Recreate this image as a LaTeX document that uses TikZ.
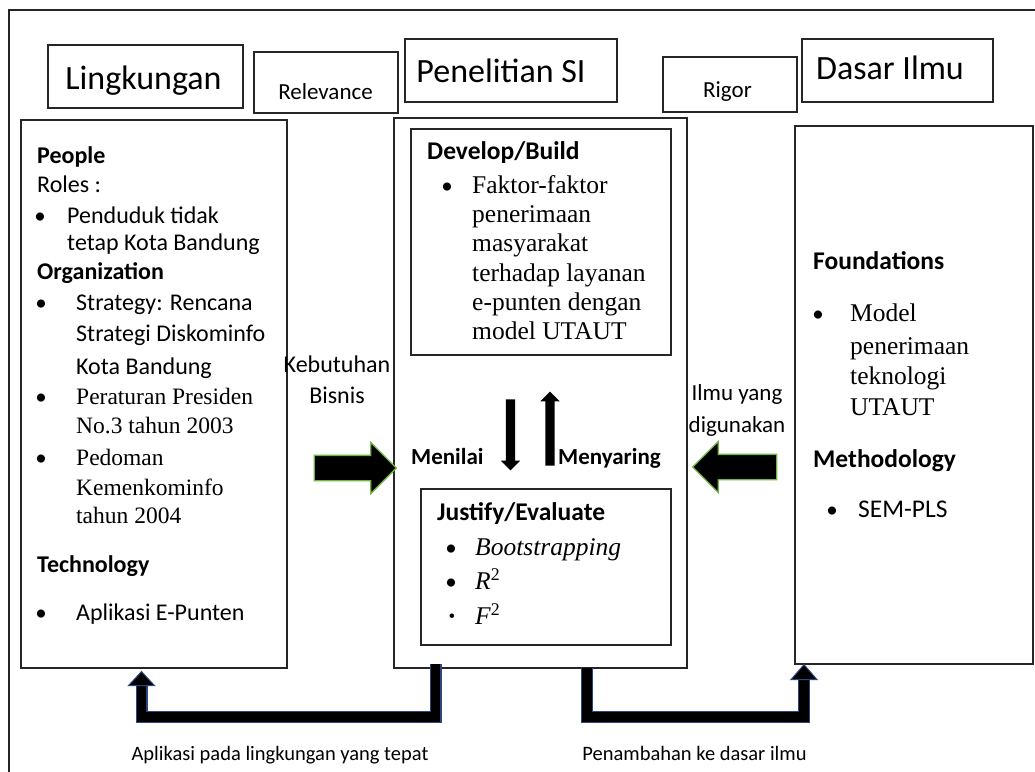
\documentclass[tikz,border=0pt]{standalone}
\usepackage{fontspec}
\setmainfont{Liberation Serif}
\newfontfamily\cali{Carlito}
\usetikzlibrary{shapes.misc,shapes.arrows,calc}

\definecolor{fbblue}{RGB}{45,70,130}
\definecolor{arrgreen}{RGB}{112,180,70}

\tikzset{
  box/.style={draw=black!85, line width=1.2pt, inner sep=0pt},
  tabbox/.style={box, chamfered rectangle, chamfered rectangle corners={north west,north east},
    chamfered rectangle xsep=9pt, chamfered rectangle ysep=9pt},
  txt/.style={anchor=mid west, inner sep=0pt, yshift=-5pt},
  hdr/.style={anchor=mid, inner sep=0pt, yshift=-5pt, font=\cali\fontsize{34}{40}\selectfont},
  sfA/.style={txt, font=\cali\fontsize{24}{28}\selectfont},
  sfbA/.style={txt, font=\cali\bfseries\fontsize{24}{28}\selectfont},
  rmA/.style={txt, font=\fontsize{23.5}{28}\selectfont},
  sfB/.style={txt, font=\cali\fontsize{25.5}{30}\selectfont},
  sfbB/.style={txt, font=\cali\bfseries\fontsize{25.5}{30}\selectfont},
  rmB/.style={txt, font=\fontsize{25.5}{30}\selectfont},
  bul/.style={anchor=mid, inner sep=0pt, yshift=-5pt, font=\cali\fontsize{23}{28}\selectfont},
  lbl/.style={anchor=mid, inner sep=0pt, yshift=-5pt, font=\cali\fontsize{23}{27}\selectfont},
  bigarr/.style={single arrow, draw=arrgreen, fill=black, line width=1.3pt, inner xsep=0pt,
    inner ysep=12pt, single arrow head extend=13pt, single arrow tip angle=90},
  smallarr/.style={single arrow, fill=black, inner sep=4.5pt,
    single arrow head extend=5pt, single arrow tip angle=90},
  fbedge/.style={line width=12pt, draw=fbblue, line join=miter},
  fbline/.style={line width=9.5pt, draw=black, line join=miter},
  fbhead/.style={fill=black, draw=fbblue, line width=1pt},
}

\begin{document}
\begin{tikzpicture}[x=1pt, y=-1pt]
  \useasboundingbox (0,0) rectangle (1035,771);
  \clip (0,0) rectangle (1035,771);
  \draw[box] (9,10) rectangle (1050,790);

  % headers
  \node[box, minimum width=195pt, minimum height=63pt] (lingH) at (145.5,76.5) {};
  \node[box, minimum width=212pt, minimum height=63pt] (penH) at (511,70.5) {};
  \node[box, minimum width=191pt, minimum height=63pt] (dasarH) at (897.5,70.5) {};
  \node[tabbox, minimum width=144pt, minimum height=61pt] (rel) at (326,82.5) {};
  \node[tabbox, minimum width=134pt, minimum height=55pt] (rig) at (730,84.5) {};
  \node[hdr] (lingT) at (143.5,82) {Lingkungan};
  \node[hdr] (penT) at (501,75) {Penelitian SI};
  \node[hdr] (dasarT) at (890,72) {Dasar Ilmu};
  \node[lbl] (relT) at (325.5,92) {Relevance};
  \node[lbl] (rigT) at (727.5,90) {Rigor};

  % main boxes
  \node[box, minimum width=266pt, minimum height=548pt] (ling) at (154,394) {};
  \node[box, minimum width=293pt, minimum height=550pt] (pen) at (540.5,393) {};
  \node[box, minimum width=260pt, minimum height=226pt] (dev) at (541,242) {};
  \node[box, minimum width=250pt, minimum height=156pt] (jus) at (546,567) {};
  \node[box, minimum width=238pt, minimum height=538pt] (dasar) at (914,395) {};

  % lingkungan
  \node[sfbA] (people) at (37,156) {People};
  \node[sfA] (roles) at (37,185) {Roles :};
  \node[bul] (bp) at (40,216) {\textbullet};
  \foreach \t/\y [count=\i] in {Penduduk tidak/216, tetap Kota Bandung/243}
    \node[sfA] (pend\i) at (67,\y) {\t};
  \node[sfbA] (org) at (37,272) {Organization};
  \node[bul] (bs) at (41,303) {\textbullet};
  \foreach \t/\y [count=\i] in {Strategy: Rencana/303, Strategi Diskominfo/334, Kota Bandung/367}
    \node[sfA] (str\i) at (76,\y) {\t};
  \node[bul] (bpr) at (41,397) {\textbullet};
  \foreach \t/\y [count=\i] in {Peraturan Presiden/397, No.3 tahun 2003/426}
    \node[rmA] (per\i) at (76,\y) {\t};
  \node[bul] (bpd) at (41,458) {\textbullet};
  \foreach \t/\y [count=\i] in {Pedoman/458, Kemenkominfo/488, tahun 2004/516}
    \node[rmA] (ped\i) at (76,\y) {\t};
  \node[sfbA] (tech) at (37,565) {Technology};
  \node[bul] (bap) at (41,613) {\textbullet};
  \node[sfA] (apl) at (76,613) {Aplikasi E-Punten};

  % penelitian SI
  \node[sfbB] (devT) at (427,152) {Develop/Build};
  \node[bul] (bd) at (447,186) {\textbullet};
  \foreach \t [count=\i from 0] in {Faktor-faktor, penerimaan, masyarakat, terhadap layanan, e-punten dengan, model UTAUT}
    \node[rmB] (fak\i) at (472,{186+29.3*\i}) {\t};
  \node[smallarr, shape border rotate=270, minimum height=71pt] (menA) at (510.5,432.5) {};
  \node[smallarr, shape border rotate=90, minimum height=74pt] (nyaA) at (550,431) {};
  \node[sfbA, font=\cali\bfseries\fontsize{23}{28}\selectfont] (menT) at (411,457) {Menilai};
  \node[sfbA, font=\cali\bfseries\fontsize{23}{28}\selectfont] (nyaT) at (558,457) {Menyaring};
  \node[sfbB] (jusT) at (437,513) {Justify/Evaluate};
  \node[bul] (bj1) at (451,548) {\textbullet};
  \node[bul] (bj2) at (451,582) {\textbullet};
  \node[bul, font=\fontsize{19}{22}\selectfont] (bj3) at (452,615) {\textbullet};
  \node[rmB] (boot) at (475,548) {\textit{Bootstrapping}};
  \node[rmB] (rsq) at (475,582) {\textit{R}\textsuperscript{2}};
  \node[rmB] (fsq) at (475,617) {\textit{F}\textsuperscript{2}};

  % dasar ilmu
  \node[sfbB] (found) at (813,262) {Foundations};
  \node[bul] (bm) at (818,314) {\textbullet};
  \foreach \t/\y [count=\i] in {Model/314, penerimaan/347, teknologi/377, UTAUT/408}
    \node[rmB] (mod\i) at (850,\y) {\t};
  \node[sfbB] (meth) at (813,460) {Methodology};
  \node[bul] (bsem) at (832,510) {\textbullet};
  \node[sfB] (sem) at (858,510) {SEM-PLS};

  % big arrows
  \node[bigarr, minimum height=82pt] (kebA) at (349,468) {};
  \node[bigarr, shape border rotate=180, minimum height=84pt] (ilmA) at (741,467) {};
  \node[lbl, font=\cali\fontsize{24}{28}\selectfont] (keb1) at (337,365) {Kebutuhan};
  \node[lbl, font=\cali\fontsize{24}{28}\selectfont] (keb2) at (337,396) {Bisnis};
  \node[lbl] (ilm1) at (737,393) {Ilmu yang};
  \node[lbl] (ilm2) at (737,425) {digunakan};

  % feedback
  \coordinate (aplA) at (435.5,717);
  \coordinate (aplB) at (141.5,717);
  \coordinate (tamA) at (587,717);
  \coordinate (tamB) at (804,717);
  \foreach \s in {fbedge, fbline} {
    \draw[\s, shorten <=-5pt, shorten >=16pt] (pen.south -| aplA) -- (aplA) -- (aplB) -- (ling.south -| aplB);
    \draw[\s, shorten <=-1pt, shorten >=14pt] (pen.south -| tamA) -- (tamA) -- (tamB) -- (dasar.south -| tamB);
  }
  \filldraw[fbhead] ($(ling.south -| aplB)+(0,3)$) -- ++(-13,14) -- ++(26,0) -- cycle;
  \filldraw[fbhead] ($(dasar.south -| tamB)+(0,0)$) -- ++(-13,15) -- ++(26,0) -- cycle;
  \node[lbl, font=\cali\fontsize{20.5}{24}\selectfont] (aplT) at (280,753) {Aplikasi pada lingkungan yang tepat};
  \node[lbl, font=\cali\fontsize{20.5}{24}\selectfont] (tamT) at (694.5,753) {Penambahan ke dasar ilmu};
\end{tikzpicture}
\end{document}
